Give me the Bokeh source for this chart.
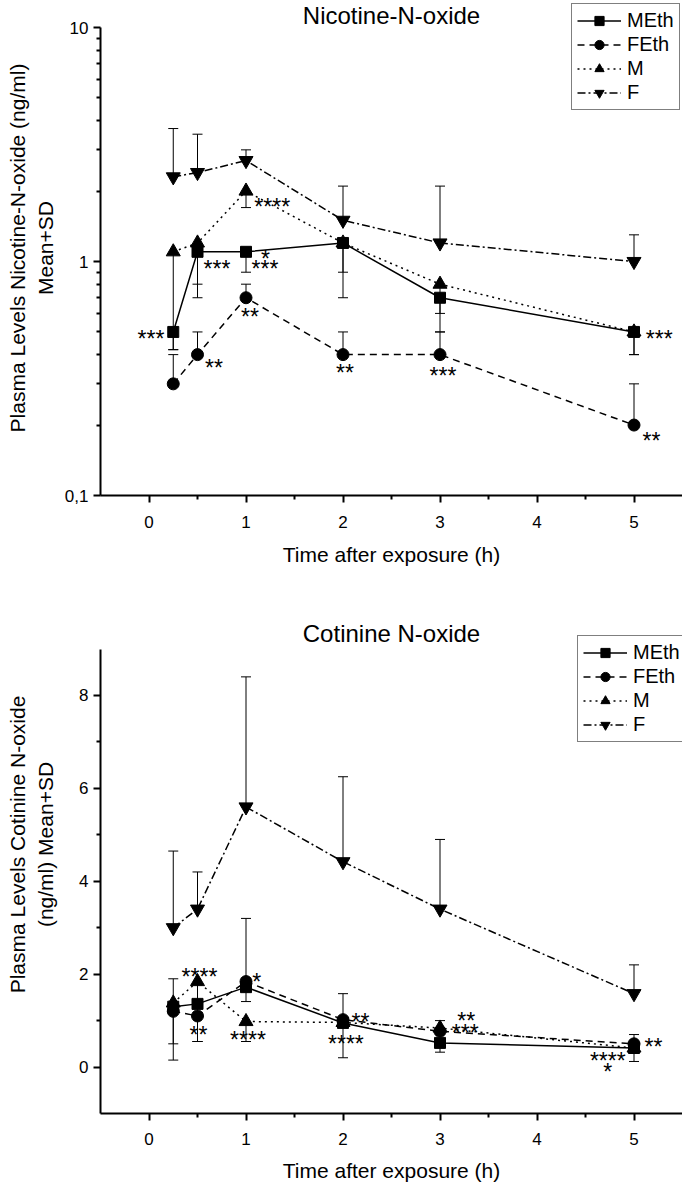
from bokeh.plotting import figure
from bokeh.models import (ColumnDataSource, FixedTicker, CustomJSTickFormatter, Label,
                          Legend, LegendItem, Range1d)
from bokeh.layouts import column
from bokeh.embed import file_html
from bokeh.resources import INLINE
from bokeh.core.properties import value
import numpy as np

nan = float("nan")

times = [0.25, 0.5, 1, 2, 3, 5]
series_names = ["MEth", "FEth", "M", "F"]
x_ticks = [0, 1, 2, 3, 4, 5]
x_minor = [0.5, 1.5, 2.5, 3.5, 4.5]

# ---- Nicotine-N-oxide (log axis) ----
nno_meth = [0.5, 1.1, 1.1, 1.2, 0.7, 0.5]
nno_feth = [0.3, 0.4, 0.7, 0.4, 0.4, 0.2]
nno_m = [1.1, 1.2, 2.0, 1.2, 0.8, 0.5]
nno_f = [2.3, 2.4, 2.7, 1.5, 1.2, 1.0]
nno_meth_bar = [0.42, 0.8, 0.9, 0.9, 0.5, 0.4]
nno_feth_bar = [0.40, 0.5, 0.8, 0.5, 0.5, 0.3]
nno_m_bar = [0.42, 0.7, 1.7, 0.7, 0.6, 0.4]
nno_f_bar = [3.7, 3.5, 3.0, 2.1, 2.1, 1.3]
nno_star_text = ["***", "**", "***", "*", "***", "****", "**", "**", "***", "***", "**"]
nno_star_x = [0.02, 0.67, 0.70, 1.20, 1.195, 1.27, 1.04, 2.02, 3.03, 5.26, 5.18]
nno_star_y = [0.49, 0.37, 0.98, 1.08, 0.98, 1.79, 0.61, 0.35, 0.34, 0.49, 0.18]
nno_y_ticks = [0.1, 1, 10]
nno_y_minor = [0.2, 0.3, 0.4, 0.5, 0.6, 0.7, 0.8, 0.9, 2, 3, 4, 5, 6, 7, 8, 9]
nno_y_bounds = (0.1, 10)

# ---- Cotinine N-oxide (linear axis) ----
cno_meth = [1.3, 1.36, 1.72, 0.95, 0.52, 0.41]
cno_feth = [1.2, 1.1, 1.84, 1.02, 0.77, 0.50]
cno_m = [1.38, 1.84, 0.98, 0.96, 0.84, 0.41]
cno_f = [3.0, 3.4, 5.6, 4.42, 3.4, 1.58]
cno_meth_bar = [0.5, 0.55, 1.41, 0.2, 0.32, 0.12]
cno_feth_bar = [0.15, 0.55, 3.2, 1.58, nan, 0.7]
cno_m_bar = [1.9, 0.55, 0.55, nan, 1.0, nan]
cno_f_bar = [4.65, 4.2, 8.4, 6.25, 4.9, 2.2]
cno_star_text = ["****", "**", "*", "****", "**", "****", "**", "***", "**", "****", "*"]
cno_star_x = [0.52, 0.51, 1.11, 1.02, 2.18, 2.03, 3.27, 3.26, 5.2, 4.73, 4.73]
cno_star_y = [2.04, 0.80, 1.94, 0.70, 1.08, 0.60, 1.09, 0.84, 0.53, 0.23, 0.01]
cno_y_ticks = [0, 2, 4, 6, 8]
cno_y_minor = [1, 3, 5, 7]
cno_y_bounds = (-1, 9)

FONT = "Liberation Sans"
dashes = {"MEth": "solid", "FEth": "7 5", "M": "2 4", "F": "8 3 2 3"}
markers = {"MEth": ("square", 11), "FEth": ("circle", 12), "M": ("triangle", 14),
           "F": ("inverted_triangle", 14)}

# layout (pixels): the frame reaches up to the figure top so that the title and
# legend (drawn inside the frame) are not clipped; the axes are bounded.
TOP_FRAME_H, TOP_AXIS_TOP = 495, 27          # px of the "10" tick from the frame top
BOT_FRAME_H, BOT_AXIS_TOP = 538, 73.5        # px of the "9" end from the frame top


def style_axes(p, ylabel, ystandoff):
    for ax in (p.xaxis[0], p.yaxis[0]):
        ax.axis_line_width = 2
        ax.axis_line_color = "black"
        ax.major_tick_line_width = 2
        ax.minor_tick_line_width = 2
        ax.major_tick_line_color = "black"
        ax.minor_tick_line_color = "black"
        ax.major_tick_in = 0
        ax.major_tick_out = 7
        ax.minor_tick_in = 0
        ax.minor_tick_out = 4
        ax.major_label_text_font = FONT
        ax.major_label_text_font_size = "17px"
        ax.major_label_text_color = "black"
        ax.axis_label_text_font = FONT
        ax.axis_label_text_font_size = "21px"
        ax.axis_label_text_font_style = "normal"
        ax.axis_label_text_color = "black"
    p.xaxis[0].ticker = FixedTicker(ticks=x_ticks, minor_ticks=x_minor)
    p.xaxis[0].axis_label = "Time after exposure (h)"
    p.yaxis[0].axis_label = ylabel
    p.yaxis[0].major_label_standoff = 5
    p.yaxis[0].axis_label_standoff = ystandoff
    p.xgrid.visible = False
    p.ygrid.visible = False
    p.outline_line_color = None


def draw_series(p, vals, bars, stars, title, title_y, legend_loc):
    items = []
    for name in series_names:
        src = ColumnDataSource(dict(x=times, y=vals[name], yb=np.array(bars[name], dtype=float)))
        lr = p.line("x", "y", source=src, line_color="black", line_width=1.5,
                    line_dash=dashes[name])
        p.segment(x0="x", y0="y", x1="x", y1="yb", source=src, line_color="black", line_width=1)
        p.scatter(x="x", y="yb", source=src, marker="dash", size=10, line_color="black",
                  line_width=1)
        items.append((name, lr))
    legend_items = []
    for name, lr in items:
        mk, sz = markers[name]
        src = ColumnDataSource(dict(x=times, y=vals[name]))
        sr = p.scatter("x", "y", source=src, marker=mk, size=sz, fill_color="black",
                       line_color="black")
        legend_items.append(LegendItem(label=name, renderers=[lr, sr]))
    st_src = ColumnDataSource(dict(x=stars[0], y=stars[1], t=stars[2]))
    p.text("x", "y", text="t", source=st_src, text_font=value(FONT),
           text_font_size="23px", text_align="center", text_baseline="middle",
           y_offset=5, text_color="#000000")
    leg = Legend(items=legend_items, location=legend_loc)
    leg.label_text_font = FONT
    leg.label_text_font_size = "20px"
    leg.label_text_color = "black"
    leg.glyph_width = 44
    leg.glyph_height = 23
    leg.label_height = 23
    leg.label_standoff = 6
    leg.padding = 5
    leg.spacing = 1
    leg.margin = 0
    leg.border_line_color = "black"
    leg.border_line_width = 1
    leg.background_fill_alpha = 1
    p.add_layout(leg)
    p.add_layout(Label(x=291, y=title_y, x_units="screen", y_units="screen",
                       text=title, text_align="center", text_baseline="middle",
                       text_font=FONT, text_font_size="24px", text_color="black"))


# ---- top figure ----
top_end = 10 ** (np.log10(nno_y_bounds[1]) + TOP_AXIS_TOP / 234.0)
p1 = figure(width=682, height=575, frame_width=582, frame_height=TOP_FRAME_H,
            x_range=Range1d(-0.5, 5.5), y_range=Range1d(nno_y_bounds[0], top_end),
            y_axis_type="log", output_backend="svg", toolbar_location=None,
            min_border_left=100, min_border_right=0, min_border_top=0, min_border_bottom=80)
style_axes(p1, "Plasma Levels Nicotine-N-oxide (ng/ml)\nMean+SD", 5)
p1.yaxis[0].bounds = nno_y_bounds
p1.yaxis[0].ticker = FixedTicker(ticks=nno_y_ticks, minor_ticks=nno_y_minor)
p1.yaxis[0].formatter = CustomJSTickFormatter(
    code="return tick < 0.5 ? '0,1' : String(Math.round(tick));")
p1.xaxis[0].major_label_standoff = 13
p1.xaxis[0].axis_label_standoff = 12
draw_series(p1,
            {"MEth": nno_meth, "FEth": nno_feth, "M": nno_m, "F": nno_f},
            {"MEth": nno_meth_bar, "FEth": nno_feth_bar, "M": nno_m_bar, "F": nno_f_bar},
            (nno_star_x, nno_star_y, nno_star_text),
            "Nicotine-N-oxide", TOP_FRAME_H - 15, (471, 385))

# ---- bottom figure ----
bot_px_per_unit = (BOT_FRAME_H - BOT_AXIS_TOP) / (cno_y_bounds[1] - cno_y_bounds[0])
bot_end = cno_y_bounds[1] + BOT_AXIS_TOP / bot_px_per_unit
p2 = figure(width=682, height=612, frame_width=582, frame_height=BOT_FRAME_H,
            x_range=Range1d(-0.5, 5.5), y_range=Range1d(cno_y_bounds[0], bot_end),
            output_backend="svg", toolbar_location=None,
            min_border_left=100, min_border_right=0, min_border_top=0, min_border_bottom=74)
style_axes(p2, "Plasma Levels Cotinine N-oxide\n(ng/ml) Mean+SD", 19)
p2.yaxis[0].bounds = cno_y_bounds
p2.yaxis[0].ticker = FixedTicker(ticks=cno_y_ticks, minor_ticks=cno_y_minor)
p2.xaxis[0].major_label_standoff = 12
p2.xaxis[0].axis_label_standoff = 11
draw_series(p2,
            {"MEth": cno_meth, "FEth": cno_feth, "M": cno_m, "F": cno_f},
            {"MEth": cno_meth_bar, "FEth": cno_feth_bar, "M": cno_m_bar, "F": cno_f_bar},
            (cno_star_x, cno_star_y, cno_star_text),
            "Cotinine N-oxide", BOT_FRAME_H - 58, (477, 371))

layout = column(p1, p2, spacing=0)
open("out.html", "w").write(file_html(layout, INLINE))
